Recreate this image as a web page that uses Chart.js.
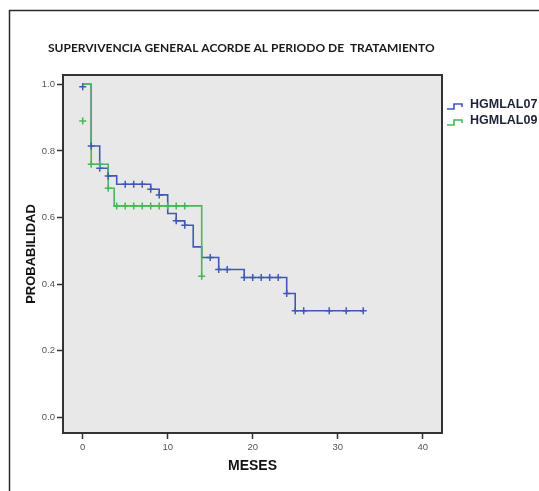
<!DOCTYPE html>
<html>
<head>
<meta charset="utf-8">
<script src="https://cdn.jsdelivr.net/npm/chart.js@4.4.1/dist/chart.umd.min.js"></script>
<style>
  html, body { margin: 0; padding: 0; background: #fff; }
  #wrap { width: 539px; height: 491px; }
</style>
</head>
<body>
<div id="wrap"><canvas id="kmChart" width="539" height="491"></canvas></div>
<script>
const chartTitle = "SUPERVIVENCIA GENERAL ACORDE AL PERIODO DE  TRATAMIENTO";
const seriesNames = ["HGMLAL07", "HGMLAL09"];
const seriesColors = ["#4159b5", "#46b855"];

// HGMLAL07: time of each step and survival after it
const hg07Times = [0, 1, 2, 3, 4, 8, 9, 10, 11, 12, 13, 14, 16, 19, 24, 25, 33];
const hg07Surv = [1.0, 0.815, 0.748, 0.725, 0.700, 0.685, 0.668, 0.612, 0.590, 0.577, 0.512, 0.480, 0.444, 0.420, 0.372, 0.320, 0.320];
// HGMLAL07 censored cases
const hg07CensTimes = [0, 1, 2, 3, 5, 6, 7, 8, 9, 11, 12, 15, 16, 17, 19, 20, 21, 22, 23, 24, 25, 26, 29, 31, 33];
const hg07CensSurv = [0.993, 0.815, 0.748, 0.725, 0.700, 0.700, 0.700, 0.685, 0.668, 0.590, 0.577, 0.480, 0.444, 0.444, 0.420, 0.420, 0.420, 0.420, 0.420, 0.372, 0.320, 0.320, 0.320, 0.320, 0.320];

// HGMLAL09
const hg09Times = [0, 1, 3, 3.7, 14];
const hg09Surv = [1.0, 0.760, 0.688, 0.635, 0.424];
const hg09CensTimes = [0, 1, 2, 3, 4, 5, 6, 7, 8, 9, 10, 11, 12, 14];
const hg09CensSurv = [0.890, 0.760, 0.760, 0.688, 0.635, 0.635, 0.635, 0.635, 0.635, 0.635, 0.635, 0.635, 0.635, 0.424];

const xTicks = [0, 10, 20, 30, 40];
const yTicks = [0, 0.2, 0.4, 0.6, 0.8, 1.0];

const toPoints = (xs, ys) => xs.map((x, i) => ({ x: x, y: ys[i] }));

// background, plot frame, outer frame, title and legend
const decorPlugin = {
    id: "decor",
    beforeDraw(chart) {
        const { ctx, chartArea: a } = chart;
        ctx.save();
        ctx.fillStyle = "#e8e8e8";
        ctx.fillRect(a.left, a.top, a.right - a.left, a.bottom - a.top);
        ctx.restore();
    },
    afterDraw(chart) {
        const { ctx, chartArea: a } = chart;
        ctx.save();
        ctx.strokeStyle = "#333";
        ctx.lineWidth = 2;
        ctx.strokeRect(a.left, a.top, a.right - a.left, a.bottom - a.top);

        // outer frame (top and left only)
        ctx.lineWidth = 1.5;
        ctx.strokeStyle = "#2a2a2a";
        ctx.beginPath();
        ctx.moveTo(9.5, 491);
        ctx.lineTo(9.5, 10.5);
        ctx.lineTo(539, 10.5);
        ctx.stroke();

        ctx.fillStyle = "#1a1a1a";
        ctx.font = "bold 12px Lato";
        ctx.textBaseline = "middle";
        ctx.textAlign = "left";
        ctx.fillText(chartTitle, 48, 48);

        // legend
        seriesNames.forEach((name, i) => {
            const c = 105 + i * 16;
            ctx.strokeStyle = seriesColors[i];
            ctx.lineWidth = 1.6;
            ctx.beginPath();
            ctx.moveTo(447, c + 4);
            ctx.lineTo(454, c + 4);
            ctx.lineTo(454, c - 1);
            ctx.lineTo(462, c - 1);
            ctx.lineTo(462, c + 2);
            ctx.stroke();
            ctx.fillStyle = "#1c2236";
            ctx.font = "bold 12.5px Arial";
            ctx.fillText(name, 470, c);
        });
        ctx.restore();
    }
};

const ctx = document.getElementById("kmChart");

new Chart(ctx, {
    type: "line",
    data: {
        datasets: [
            {
                label: seriesNames[1] + " censurado",
                type: "scatter",
                data: toPoints(hg09CensTimes, hg09CensSurv),
                pointStyle: "cross",
                pointRadius: 3.5,
                pointBorderWidth: 1.5,
                borderColor: seriesColors[1],
                backgroundColor: seriesColors[1],
                order: 0
            },
            {
                label: seriesNames[0] + " censurado",
                type: "scatter",
                data: toPoints(hg07CensTimes, hg07CensSurv),
                pointStyle: "cross",
                pointRadius: 3.5,
                pointBorderWidth: 1.5,
                borderColor: seriesColors[0],
                backgroundColor: seriesColors[0],
                order: 1
            },
            {
                label: seriesNames[1],
                data: toPoints(hg09Times, hg09Surv),
                stepped: "before",
                borderColor: seriesColors[1],
                borderWidth: 1.6,
                pointRadius: 0,
                fill: false,
                order: 2
            },
            {
                label: seriesNames[0],
                data: toPoints(hg07Times, hg07Surv),
                stepped: "before",
                borderColor: seriesColors[0],
                borderWidth: 1.6,
                pointRadius: 0,
                fill: false,
                order: 3
            }
        ]
    },
    options: {
        responsive: false,
        animation: false,
        layout: { padding: { left: 0, top: 75, right: 97, bottom: 0 } },
        plugins: {
            legend: { display: false },
            tooltip: { enabled: false }
        },
        scales: {
            x: {
                type: "linear",
                min: -2.32,
                max: 42.27,
                afterBuildTicks: s => { s.ticks = xTicks.map(v => ({ value: v })); },
                afterFit: s => { s.height = 58; s.paddingLeft = 0; s.paddingRight = 0; },
                border: { display: false },
                grid: { drawOnChartArea: false, drawTicks: true, tickLength: 6, tickColor: "#333", tickWidth: 1.5 },
                ticks: {
                    color: "#555",
                    font: { family: "Arial", size: 9.5 },
                    padding: 3,
                    maxRotation: 0,
                    callback: v => String(v)
                },
                title: {
                    display: true,
                    text: "MESES",
                    color: "#111",
                    font: { family: "Arial", weight: "bold", size: 14 },
                    padding: { top: 0, bottom: 16 }
                }
            },
            y: {
                type: "linear",
                min: -0.047,
                max: 1.028,
                afterBuildTicks: s => { s.ticks = yTicks.map(v => ({ value: v })); },
                afterFit: s => { s.width = 63; s.paddingTop = 0; s.paddingBottom = 0; },
                border: { display: false },
                grid: { drawOnChartArea: false, drawTicks: true, tickLength: 6, tickColor: "#333", tickWidth: 1.5 },
                ticks: {
                    color: "#555",
                    font: { family: "Arial", size: 9.5 },
                    padding: 2,
                    callback: v => v.toFixed(1)
                },
                title: {
                    display: true,
                    text: "PROBABILIDAD",
                    color: "#111",
                    font: { family: "Arial", weight: "bold", size: 13 },
                    padding: { top: 24, bottom: 0 }
                }
            }
        }
    },
    plugins: [decorPlugin]
});
</script>
</body>
</html>
